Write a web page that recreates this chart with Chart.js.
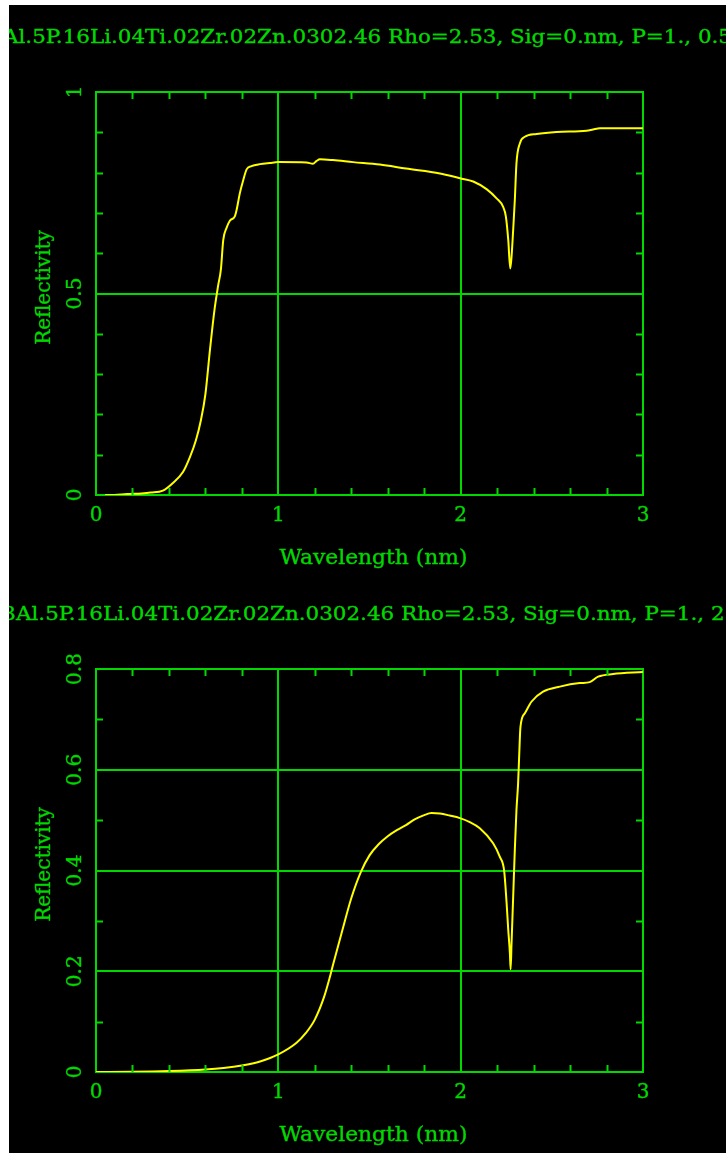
<!DOCTYPE html>
<html>
<head>
<meta charset="utf-8">
<script src="https://cdn.jsdelivr.net/npm/chart.js@4"></script>
<style>
  html, body { margin: 0; padding: 0; background: #fff; }
  #wrap { position: absolute; left: 9px; top: 5px; width: 717px; height: 1148px; background: #000; }
  canvas { display: block; }
</style>
</head>
<body>
<div id="wrap">
  <canvas id="refl-top" width="717" height="575"></canvas>
  <canvas id="refl-bottom" width="717" height="573"></canvas>
</div>
<script>
// Reflectivity vs wavelength, two angles of incidence.

var titleTop    = 'Al.5P.16Li.04Ti.02Zr.02Zn.0302.46 Rho=2.53, Sig=0.nm, P=1., 0.5';
var titleBottom = '3Al.5P.16Li.04Ti.02Zr.02Zn.0302.46 Rho=2.53, Sig=0.nm, P=1., 2';
var xLabel = 'Wavelength (nm)';
var yLabel = 'Reflectivity';

var xTicks       = [0, 1, 2, 3];
var yTicksTop    = [0, 0.5, 1];
var yTicksBottom = [0, 0.2, 0.4, 0.6, 0.8];

var wlTop   = [0.05, 0.1, 0.17, 0.25, 0.3, 0.367, 0.422, 0.477, 0.515, 0.548, 0.575, 0.6, 0.625, 0.65, 0.67,
               0.685, 0.698, 0.716, 0.735, 0.762, 0.771, 0.789, 0.808, 0.826, 0.853, 0.899, 0.954, 1.0,
               1.155, 1.19, 1.21, 1.228, 1.3, 1.41, 1.557, 1.7, 1.886, 1.996, 2.069, 2.142, 2.197, 2.233,
               2.248, 2.261, 2.272, 2.279, 2.288, 2.297, 2.306, 2.325, 2.352, 2.416, 2.526, 2.69, 2.726,
               2.763, 3.0];
var reflTop = [0, 0.0003, 0.0025, 0.004, 0.006, 0.011, 0.030, 0.057, 0.094, 0.136, 0.185, 0.25, 0.36, 0.46, 0.52,
               0.56, 0.633, 0.663, 0.681, 0.692, 0.707, 0.749, 0.782, 0.808, 0.816, 0.821, 0.824, 0.826,
               0.825, 0.822, 0.829, 0.833, 0.831, 0.826, 0.82, 0.81, 0.798, 0.786, 0.778, 0.759, 0.736, 0.715,
               0.691, 0.633, 0.562, 0.591, 0.658, 0.732, 0.823, 0.873, 0.889, 0.896, 0.901, 0.904, 0.907,
               0.91, 0.91];

var wlBottom   = [0, 0.2, 0.4, 0.6, 0.7, 0.8, 0.9, 1.0, 1.1, 1.15, 1.2, 1.25, 1.28, 1.3, 1.35, 1.4, 1.45, 1.5,
                  1.55, 1.6, 1.65, 1.7, 1.75, 1.8, 1.84, 1.886, 1.94, 1.996, 2.05, 2.105, 2.178, 2.215, 2.239,
                  2.252, 2.261, 2.27, 2.274, 2.279, 2.288, 2.297, 2.306, 2.315, 2.32, 2.328, 2.352, 2.388,
                  2.452, 2.544, 2.653, 2.708, 2.754, 2.836, 3.0];
var reflBottom = [0, 0.0005, 0.002, 0.005, 0.008, 0.013, 0.021, 0.035, 0.058, 0.077, 0.104, 0.148, 0.185, 0.213,
                  0.28, 0.345, 0.395, 0.43, 0.452, 0.468, 0.48, 0.49, 0.502, 0.51, 0.514, 0.513, 0.509, 0.504,
                  0.496, 0.484, 0.454, 0.427, 0.398, 0.335, 0.282, 0.236, 0.204, 0.255, 0.348, 0.441, 0.52,
                  0.573, 0.619, 0.685, 0.712, 0.735, 0.755, 0.765, 0.772, 0.774, 0.785, 0.79, 0.794];

var GREEN  = '#00d800';
var YELLOW = '#ffff00';
var SERIF  = '"DejaVu Serif", "Liberation Serif", serif';

function _points(xs, ys) {
  return xs.map(function(x, i) { return { x: x, y: ys[i] }; });
}

function _isMajor(v, list) {
  return list.some(function(t) { return Math.abs(t - v) < 1e-6; });
}

// text squeezed/stretched horizontally by sx, with a thin outline for heavier strokes
function _stretchText(ctx, text, x, y, sx) {
  ctx.save();
  ctx.translate(x, y);
  ctx.scale(sx, 1);
  ctx.fillText(text, 0, 0);
  ctx.strokeText(text, 0, 0);
  ctx.restore();
}

function _decor(opts) {
  return {
    id: 'decor',
    afterDraw: function(chart) {
      var ctx = chart.ctx;
      var area = chart.chartArea;
      var xs = chart.scales.x;
      var ys = chart.scales.y;
      var v, px, py, i;

      ctx.save();
      ctx.strokeStyle = GREEN;
      ctx.lineWidth = 2;
      ctx.beginPath();
      // inward minor ticks, every 0.2 along x
      for (i = 1; i < 15; i++) {
        v = i * 0.2;
        if (_isMajor(v, xTicks)) continue;
        px = Math.round(xs.getPixelForValue(v)) + 0.5;
        ctx.moveTo(px, area.bottom); ctx.lineTo(px, area.bottom - 7);
        ctx.moveTo(px, area.top);    ctx.lineTo(px, area.top + 7);
      }
      // inward minor ticks, every 0.1 along y
      for (i = 1; i * 0.1 < opts.yMax - 1e-6; i++) {
        v = i * 0.1;
        if (_isMajor(v, opts.yTicks)) continue;
        py = Math.round(ys.getPixelForValue(v)) + 0.5;
        ctx.moveTo(area.left, py);  ctx.lineTo(area.left + 7, py);
        ctx.moveTo(area.right, py); ctx.lineTo(area.right - 7, py);
      }
      ctx.stroke();

      ctx.fillStyle = GREEN;
      ctx.lineWidth = 0.4;

      // title, wider than the canvas and cut at both ends
      ctx.font = '18px ' + SERIF;
      ctx.textBaseline = 'alphabetic';
      ctx.textAlign = 'left';
      var lead = 'Al.5P.16Li.04Ti.02Zr.02Zn.0302.46 ';
      var sx = 385 / ctx.measureText(lead).width;
      var pre = opts.title.slice(0, opts.title.indexOf('Rho'));
      var x0 = opts.rhoX - ctx.measureText(pre).width * sx;
      _stretchText(ctx, opts.title, x0, opts.titleY, sx);

      // x tick labels
      ctx.font = '20px ' + SERIF;
      ctx.textAlign = 'center';
      xTicks.forEach(function(t) {
        _stretchText(ctx, String(t), xs.getPixelForValue(t), area.bottom + 26, 1);
      });

      // x axis title
      ctx.textAlign = 'left';
      var w = ctx.measureText(xLabel).width;
      _stretchText(ctx, xLabel, (area.left + area.right) / 2 + 4 - 94, area.bottom + 69, 188 / w);

      // rotated y tick labels and y axis title
      ctx.textAlign = 'center';
      opts.yTicks.forEach(function(t) {
        ctx.save();
        ctx.translate(area.left - 15, ys.getPixelForValue(t));
        ctx.rotate(-Math.PI / 2);
        _stretchText(ctx, String(t), 0, 0, 1);
        ctx.restore();
      });
      ctx.save();
      ctx.translate(area.left - 46, (area.top + area.bottom) / 2 - 6);
      ctx.rotate(-Math.PI / 2);
      _stretchText(ctx, yLabel, 0, 0, 1);
      ctx.restore();

      ctx.restore();
    }
  };
}

function _axis(pos, min, max, step, majors, onArea) {
  return {
    type: 'linear',
    position: pos,
    min: min,
    max: max,
    ticks: { display: false, stepSize: step },
    grid: {
      display: true,
      drawOnChartArea: onArea,
      drawTicks: false,
      lineWidth: 2,
      color: function(c) {
        var v = c.tick ? c.tick.value : null;
        if (v === null || v === min || v === max) return 'rgba(0,0,0,0)';
        return _isMajor(v, majors) ? GREEN : 'rgba(0,0,0,0)';
      }
    },
    border: { display: true, color: GREEN, width: 2 }
  };
}

function makeChart(id, xsArr, ysArr, opts) {
  var canvas = document.getElementById(id);
  return new Chart(canvas.getContext('2d'), {
    type: 'line',
    data: {
      datasets: [{
        data: _points(xsArr, ysArr),
        borderColor: YELLOW,
        borderWidth: 2,
        pointRadius: 0,
        cubicInterpolationMode: 'monotone',
        fill: false
      }]
    },
    options: {
      responsive: false,
      animation: false,
      devicePixelRatio: 1,
      layout: { padding: opts.padding },
      plugins: { legend: { display: false }, tooltip: { enabled: false } },
      scales: {
        x:  _axis('bottom', 0, 3, 1, xTicks, true),
        x2: _axis('top',    0, 3, 1, [], false),
        y:  _axis('left',   0, opts.yMax, opts.yStep, opts.yTicks, true),
        y2: _axis('right',  0, opts.yMax, opts.yStep, [], false)
      }
    },
    plugins: [_decor(opts)]
  });
}

makeChart('refl-top', wlTop, reflTop, {
  title: titleTop, rhoX: 379, titleY: 38,
  yMax: 1, yStep: 0.5, yTicks: yTicksTop,
  padding: { left: 87, right: 83, top: 87, bottom: 85 }
});

makeChart('refl-bottom', wlBottom, reflBottom, {
  title: titleBottom, rhoX: 392, titleY: 40,
  yMax: 0.8, yStep: 0.2, yTicks: yTicksBottom,
  padding: { left: 87, right: 83, top: 89, bottom: 81 }
});
</script>
</body>
</html>
